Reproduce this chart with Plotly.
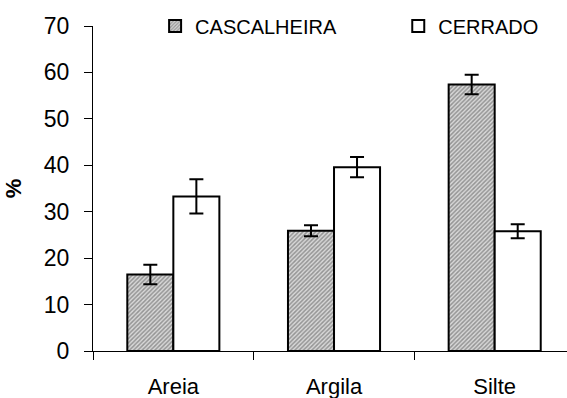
import plotly.graph_objects as go

categories = ["Areia", "Argila", "Silte"]
cascalheira = [16.5, 25.9, 57.4]
cascalheira_err = [2.1, 1.2, 2.1]
cerrado = [33.3, 39.6, 25.8]
cerrado_err = [3.7, 2.2, 1.5]
y_ticks = [0, 10, 20, 30, 40, 50, 60, 70]

FONT = "Liberation Sans, Arial, sans-serif"

fig = go.Figure()
fig.add_trace(go.Bar(
    name="CASCALHEIRA", x=categories, y=cascalheira, legend="legend",
    marker=dict(color="#b0b0b0", line=dict(color="black", width=2),
                pattern=dict(shape="/", fgcolor="#505050", bgcolor="#d8d8d8",
                             size=3, solidity=0.5)),
    error_y=dict(type="data", array=cascalheira_err, color="black",
                 thickness=2, width=7),
))
fig.add_trace(go.Bar(
    name="CERRADO", x=categories, y=cerrado, legend="legend2",
    marker=dict(color="white", line=dict(color="black", width=2)),
    error_y=dict(type="data", array=cerrado_err, color="black",
                 thickness=2, width=7),
))

leg_common = dict(orientation="h", y=1.0, xanchor="left", yanchor="middle",
                  font=dict(size=20, family=FONT), bgcolor="rgba(0,0,0,0)",
                  itemclick=False)

fig.update_layout(
    width=567, height=398,
    margin=dict(l=93, r=0, t=26, b=47),
    paper_bgcolor="white", plot_bgcolor="white",
    barmode="group", bargap=0.427, bargroupgap=0,
    font=dict(family=FONT, color="black"),
    showlegend=True,
    legend=dict(x=0.131, **leg_common),
    legend2=dict(x=0.644, **leg_common),
    xaxis=dict(range=[-0.5, 2.45], showline=True, linecolor="black", linewidth=1,
               ticks="outside", ticklen=8, tickcolor="black", tickson="boundaries",
               tickfont=dict(size=22), showgrid=False, zeroline=False,
               ticklabelstandoff=16),
    yaxis=dict(range=[0, 70], tickvals=y_ticks, showline=True, linecolor="black",
               linewidth=1, ticks="outside", ticklen=8, tickcolor="black",
               tickfont=dict(size=23), showgrid=False, zeroline=False,
               ticklabelstandoff=10,
               title=dict(text="<b>%</b>", font=dict(size=22), standoff=16)),
)

fig.write_html("out.html")
